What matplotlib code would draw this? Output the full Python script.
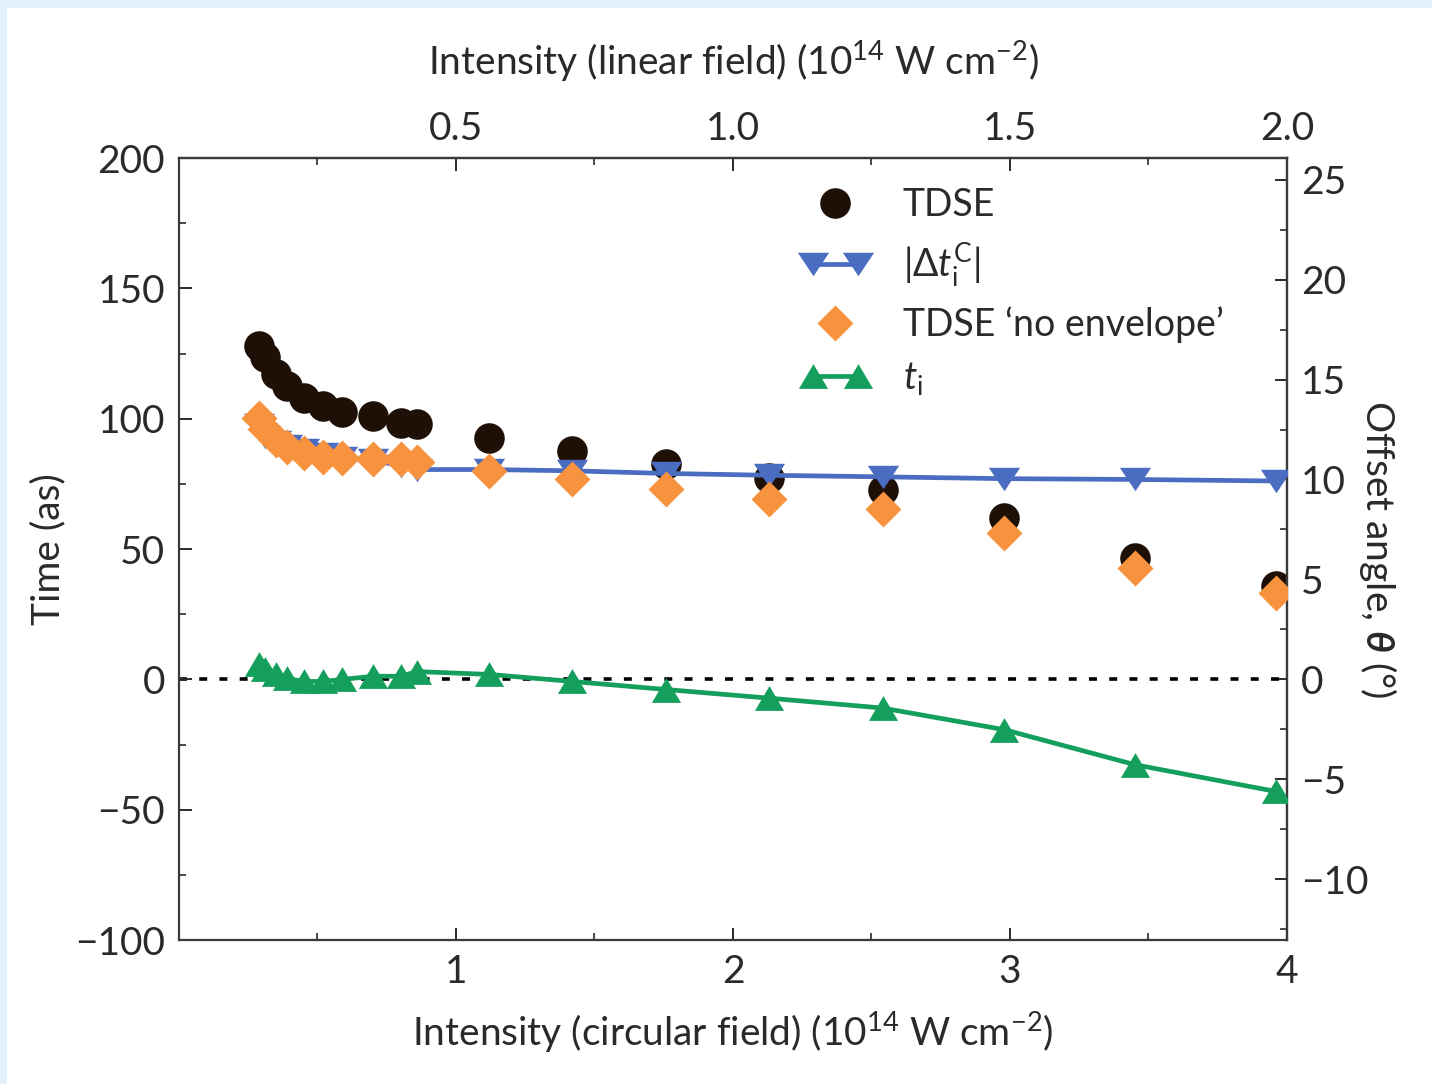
import numpy as np
import matplotlib
matplotlib.use("Agg")
import matplotlib.pyplot as plt
from matplotlib.patches import Rectangle
from matplotlib.ticker import FixedLocator, MultipleLocator
from matplotlib.legend_handler import HandlerLine2D

plt.rcParams["font.family"] = ["Lato", "DejaVu Sans"]
plt.rcParams["mathtext.fontset"] = "custom"
plt.rcParams["mathtext.rm"] = "Lato"
plt.rcParams["mathtext.it"] = "Lato:italic"
plt.rcParams["mathtext.bf"] = "Lato:bold:italic"

# intensity of the circular field (10^14 W cm^-2)
intensity = [0.29, 0.31, 0.35, 0.39, 0.45, 0.52, 0.59, 0.70, 0.80, 0.86,
             1.12, 1.42, 1.76, 2.13, 2.54, 2.98, 3.45, 3.96]
# times in attoseconds
tdse = [128, 123.5, 117, 112.5, 108, 105, 102.5, 101, 98.5, 98,
        92.7, 87.6, 82.5, 77.4, 72.5, 62, 46.7, 36]
delta_tc = [97.5, 93, 91, 89.5, 88, 86.5, 85, 84, 82, 80.5,
            80.5, 80, 79, 78.3, 77.7, 77, 76.7, 76.1]
no_envelope = [100.4, 96, 92, 89, 87, 85.5, 85, 84.5, 84.4, 83.5,
               79.9, 76.7, 73.1, 69.3, 65.5, 56.3, 42.8, 33.3]
t_i = [6, 4, 1.9, 0.4, -0.8, -0.8, 0, 1.2, 1.2, 3,
       1.9, -0.8, -3.9, -7.2, -11, -19.3, -32.7, -43]

DEG_PER_AS = 0.1304

black = "#1f1007"
blue = "#4a6dc2"
orange = "#f7933f"
green = "#14a05c"
ink = "#2a2a2a"

tri_down = [(-1, 0.75), (1, 0.75), (0, -0.75)]
tri_up = [(-1, -0.85), (1, -0.85), (0, 0.85)]

fig = plt.figure(figsize=(14.32, 10.84), dpi=100)
fig.patch.set_facecolor("#e2f1fb")
fig.add_artist(Rectangle((7 / 1432, 0), 1, 1 - 8 / 1084, transform=fig.transFigure,
                         facecolor="white", edgecolor="none", zorder=-10))

ax = fig.add_axes([0.125, 0.1328, 0.7737, 0.7214])
ax.set_facecolor("white")

ax.axhline(0, color="black", lw=2.6, linestyle=(0, (2.2, 3.4)), zorder=1)

ax.plot(intensity, tdse, linestyle="none", marker="o", ms=22, color=black,
        mec="none", label="TDSE", zorder=2)
ax.plot(intensity, delta_tc, color=blue, lw=3.4, marker=tri_down, ms=22.5,
        mec="none", label=r"$|\Delta t_\mathrm{i}^\mathrm{C}|$", zorder=3)
ax.plot(intensity, no_envelope, linestyle="none", marker="D", ms=18, color=orange,
        mec="none", label="TDSE \u2018no envelope\u2019", zorder=4)
ax.plot(intensity, t_i, color=green, lw=3.4, marker=tri_up, ms=21,
        mec="none", label=r"$t_\mathrm{i}$", zorder=3)

ax.set_xlim(0, 4)
ax.set_ylim(-100, 200)

ax.xaxis.set_major_locator(FixedLocator([1, 2, 3, 4]))
ax.xaxis.set_minor_locator(FixedLocator([0.5, 1.5, 2.5, 3.5]))
ax.yaxis.set_major_locator(MultipleLocator(50))
ax.yaxis.set_minor_locator(MultipleLocator(25))

top = ax.secondary_xaxis("top", functions=(lambda x: x / 2, lambda x: x * 2))
top.xaxis.set_major_locator(FixedLocator([0.5, 1.0, 1.5, 2.0]))
top.xaxis.set_minor_locator(FixedLocator([0.25, 0.75, 1.25, 1.75]))
top.set_xticklabels(["0.5", "1.0", "1.5", "2.0"])

right = ax.secondary_yaxis("right", functions=(lambda t: t * DEG_PER_AS,
                                                lambda a: a / DEG_PER_AS))
right.yaxis.set_major_locator(MultipleLocator(5))
right.yaxis.set_minor_locator(MultipleLocator(2.5))

for a in (ax, top, right):
    a.tick_params(which="major", direction="in", length=9, width=1.4,
                  labelsize=28, colors=ink)
    a.tick_params(which="minor", direction="in", length=5, width=1.2, colors=ink)
    for s in a.spines.values():
        s.set_color("#3a3a3a")
        s.set_linewidth(1.6)

ax.tick_params(axis="x", pad=10)
ax.tick_params(axis="y", pad=10)
top.tick_params(axis="x", pad=8)
right.tick_params(axis="y", pad=10)

unit = r"(10$^{14}$ W cm$^{-2}$)"
ax.set_xlabel("Intensity (circular field) " + unit, fontsize=28, color=ink, labelpad=14)
top.set_xlabel("Intensity (linear field) " + unit, fontsize=28, color=ink, labelpad=26)
ax.set_ylabel("Time (as)", fontsize=28, color=ink, labelpad=6)
right.set_ylabel("Offset angle, $\\mathbf{\\theta}$ (\u00b0)", fontsize=28, color=ink,
                 rotation=270, labelpad=22)

one = HandlerLine2D(numpoints=1)
two = HandlerLine2D(numpoints=2)
handles, labels = ax.get_legend_handles_labels()
leg = ax.legend(handles, labels, loc="upper left", bbox_to_anchor=(0.555, 0.972),
                frameon=False, fontsize=27, handlelength=1.8, handletextpad=0.9,
                labelspacing=0.45, borderpad=0.2, borderaxespad=0,
                handler_map={handles[0]: one, handles[2]: one,
                             handles[1]: two, handles[3]: two})
for t in leg.get_texts():
    t.set_color(ink)

fig.savefig("out.png", dpi=100, facecolor=fig.get_facecolor())
